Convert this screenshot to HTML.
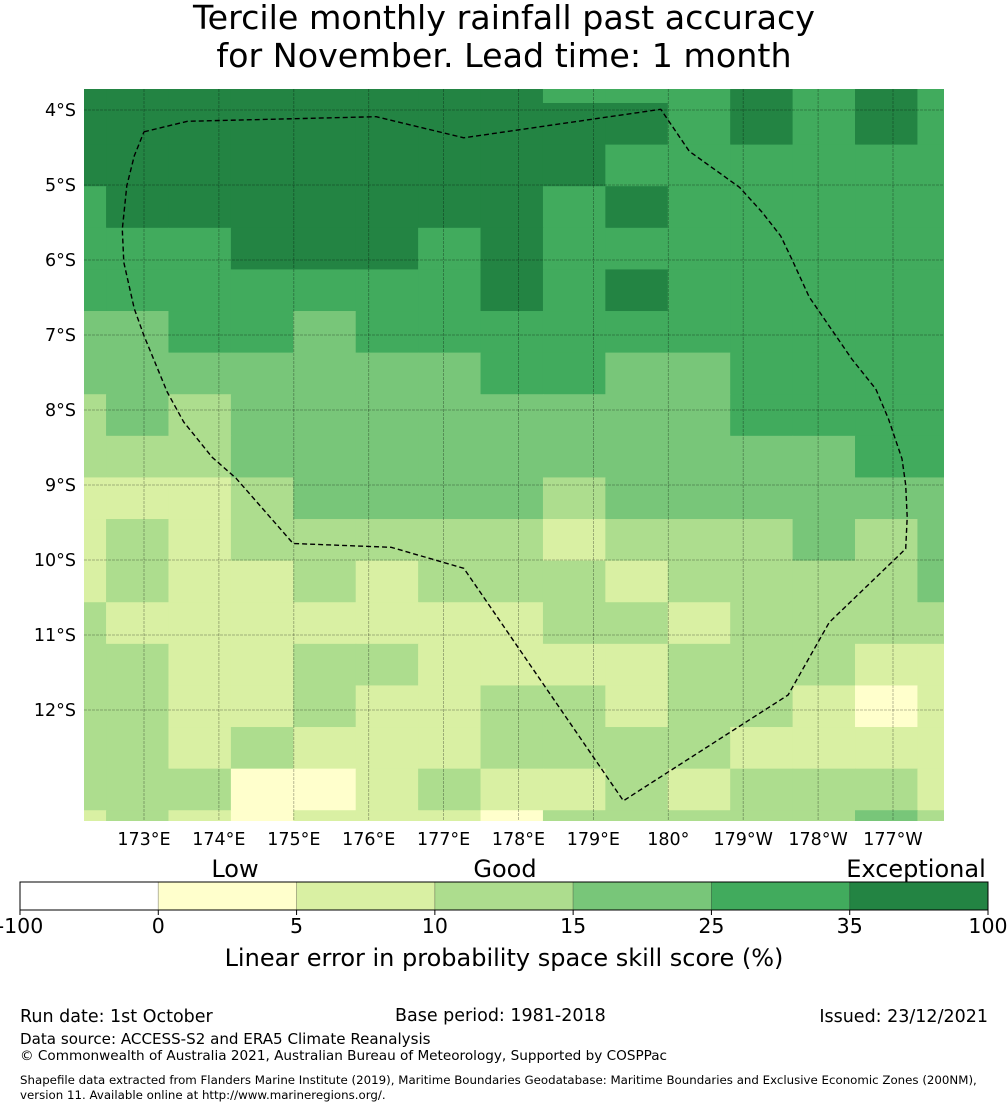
<!DOCTYPE html>
<html><head><meta charset="utf-8">
<style>
html,body{margin:0;padding:0;background:#fff;}
body{width:1008px;height:1110px;position:relative;overflow:hidden;font-family:"DejaVu Sans","Liberation Sans",sans-serif;}
svg{position:absolute;left:0;top:0;}
</style></head>
<body>
<svg id="chart" width="1008" height="1110" font-family="DejaVu Sans, Liberation Sans, sans-serif">
  <text x="504" y="29" font-size="33.3" text-anchor="middle">Tercile monthly rainfall past accuracy</text>
  <text x="504" y="67" font-size="33.3" text-anchor="middle">for November. Lead time: 1 month</text>
  <defs><clipPath id="mapclip"><rect x="84" y="89" width="860" height="732"/></clipPath></defs>
  <g id="cells" clip-path="url(#mapclip)"></g>
  <g id="grid" clip-path="url(#mapclip)"></g>
  <g id="eez" clip-path="url(#mapclip)"></g>
  <g id="xticks"></g>
  <g id="yticks"></g>
  <g id="cbar"></g>
  <text x="235" y="877" font-size="24" text-anchor="middle">Low</text>
  <text x="505" y="877" font-size="24" text-anchor="middle">Good</text>
  <text x="916" y="877" font-size="24" text-anchor="middle">Exceptional</text>
  <text x="504" y="966" font-size="24" text-anchor="middle">Linear error in probability space skill score (%)</text>
  <text x="20" y="1022" font-size="17.5">Run date: 1st October</text>
  <text x="395" y="1021" font-size="17.5">Base period: 1981-2018</text>
  <text x="988" y="1022" font-size="17.5" text-anchor="end">Issued: 23/12/2021</text>
  <text x="20" y="1044" font-size="15.1">Data source: ACCESS-S2 and ERA5 Climate Reanalysis</text>
  <text x="20" y="1060" font-size="13.6">© Commonwealth of Australia 2021, Australian Bureau of Meteorology, Supported by COSPPac</text>
  <text x="20" y="1084" font-size="11.8">Shapefile data extracted from Flanders Marine Institute (2019), Maritime Boundaries Geodatabase: Maritime Boundaries and Exclusive Economic Zones (200NM),</text>
  <text x="20" y="1099" font-size="11.8">version 11. Available online at http://www.marineregions.org/.</text>
</svg>
<script>
// ---- data ----
const gridLon0 = 171.66;   // west edge of first column (deg E)
const gridDLon = 0.8333;
const gridLat0 = 3.352;    // north edge of first row (deg S)
const gridDLat = 0.5547;
const skillRows = [
 [50,50,50,50,50,50,50,50,30,30,30,50,30,50,30],
 [50,50,50,50,50,50,50,50,50,50,30,50,30,50,30],
 [50,50,50,50,50,50,50,50,50,30,30,30,30,30,30],
 [30,50,50,50,50,50,50,50,30,50,30,30,30,30,30],
 [30,30,30,50,50,50,30,50,30,30,30,30,30,30,30],
 [30,30,30,30,30,30,30,50,30,50,30,30,30,30,30],
 [20,20,30,30,20,30,30,30,30,30,30,30,30,30,30],
 [20,20,20,20,20,20,20,30,30,20,20,30,30,30,30],
 [12,20,12,20,20,20,20,20,20,20,20,30,30,30,30],
 [12,12,12,20,20,20,20,20,20,20,20,20,20,30,30],
 [7,7,7,12,20,20,20,20,12,20,20,20,20,20,20],
 [7,12,7,12,12,12,12,12,7,12,12,12,20,12,20],
 [7,12,7,7,12,7,12,12,12,7,12,12,12,12,20],
 [12,7,7,7,7,7,7,7,12,12,7,12,12,12,12],
 [12,12,7,7,12,12,7,7,7,7,12,12,12,7,7],
 [12,12,7,7,12,7,7,12,12,7,12,12,7,3,7],
 [12,12,7,12,7,7,7,12,12,12,12,7,7,7,7],
 [12,12,12,3,3,7,12,7,7,12,7,12,12,12,7],
 [7,12,7,3,7,7,7,3,12,12,12,12,12,20,12]
];
const cbBounds = [-100,0,5,10,15,25,35,100];
const cbColors = ["#ffffff","#ffffcc","#d9f0a3","#addd8e","#78c679","#41ab5d","#238443"];
const lonTicks = [173,174,175,176,177,178,179,180,181,182,183];
const lonLabels = ["173°E","174°E","175°E","176°E","177°E","178°E","179°E","180°","179°W","178°W","177°W"];
const latTicks = [4,5,6,7,8,9,10,11,12];
const latLabels = ["4°S","5°S","6°S","7°S","8°S","9°S","10°S","11°S","12°S"];
const eezLon = [173.0,173.58,176.1,177.27,179.9,180.28,180.95,181.25,181.5,181.65,181.88,182.45,182.77,182.94,183.12,183.17,183.19,183.17,182.15,181.6,179.4,177.27,176.3,174.99,174.23,173.91,173.53,173.31,173.0,172.87,172.73,172.71,172.77,172.87,173.0];
const eezLat = [4.29,4.15,4.09,4.37,3.99,4.55,5.03,5.36,5.68,5.99,6.49,7.32,7.72,8.12,8.65,9.0,9.43,9.85,10.83,11.8,13.21,10.11,9.83,9.78,8.91,8.63,8.16,7.76,7.01,6.65,6.03,5.59,5.01,4.61,4.29];

// ---- axis functions ----
const xOf = lon => 144 + (lon - 173) * 74.9;
const yOf = lat => 110 + (lat - 4) * 75;
const colorOf = v => { for (let i = cbColors.length - 1; i >= 0; i--) if (v >= cbBounds[i]) return cbColors[i]; return cbColors[0]; };
const NS = "http://www.w3.org/2000/svg";
function mk(tag, attrs, parent) { const e = document.createElementNS(NS, tag); for (const k in attrs) e.setAttribute(k, attrs[k]); parent.appendChild(e); return e; }

// cells
const gc = document.getElementById("cells");
skillRows.forEach((row, r) => row.forEach((v, c) => {
  const x0 = xOf(gridLon0 + c * gridDLon), x1 = xOf(gridLon0 + (c + 1) * gridDLon);
  const y0 = yOf(gridLat0 + r * gridDLat), y1 = yOf(gridLat0 + (r + 1) * gridDLat);
  const el = mk("rect", {x: x0, y: y0, width: x1 - x0 + 0.6, height: y1 - y0 + 0.6, fill: colorOf(v)}, gc);
  
  
}));

// graticule + ticks
const gg = document.getElementById("grid"), gx = document.getElementById("xticks"), gy = document.getElementById("yticks");
lonTicks.forEach((lon, i) => {
  const x = xOf(lon);
  const l = mk("line", {x1: x, y1: 89, x2: x, y2: 821, stroke: "rgba(0,0,0,0.35)", "stroke-width": 0.8, "stroke-dasharray": "3,1"}, gg);
  
  
  const t = mk("text", {x: x, y: 845, "font-size": 17.5, "text-anchor": "middle"}, gx);
  t.textContent = lonLabels[i];
  
  
});
latTicks.forEach((lat, i) => {
  const y = yOf(lat);
  const l = mk("line", {x1: 84, y1: y, x2: 944, y2: y, stroke: "rgba(0,0,0,0.35)", "stroke-width": 0.8, "stroke-dasharray": "3,1"}, gg);
  
  
  const t = mk("text", {x: 76, y: y + 6, "font-size": 17.5, "text-anchor": "end"}, gy);
  t.textContent = latLabels[i];
  
  
});

// EEZ boundary
const pts = eezLon.map((lon, i) => xOf(lon).toFixed(1) + "," + yOf(eezLat[i]).toFixed(1)).join(" ");
const pl = mk("polyline", {points: pts, fill: "none", stroke: "#000", "stroke-width": 1.4, "stroke-dasharray": "5,3", "stroke-linejoin": "round"}, document.getElementById("eez"));



// colorbar
const cb = document.getElementById("cbar");
const cbX0 = 20, cbX1 = 988, segW = (cbX1 - cbX0) / cbColors.length;
cbColors.forEach((col, i) => {
  const r = mk("rect", {x: cbX0 + i * segW, y: 882, width: segW, height: 28, fill: col, stroke: "rgba(0,0,0,0.25)", "stroke-width": 0.8}, cb);
  
  
});
const fr = mk("rect", {x: cbX0, y: 882, width: cbX1 - cbX0, height: 28, fill: "none", stroke: "#000", "stroke-width": 1}, cb);


cbBounds.forEach((b, i) => {
  const x = cbX0 + i * segW;
  const tk = mk("line", {x1: x, y1: 910, x2: x, y2: 915, stroke: "#000", "stroke-width": 1}, cb);
  
  
  const t = mk("text", {x: x, y: 933, "font-size": 20.5, "text-anchor": "middle"}, cb);
  t.textContent = b;
  
  
});
</script>
</body></html>
